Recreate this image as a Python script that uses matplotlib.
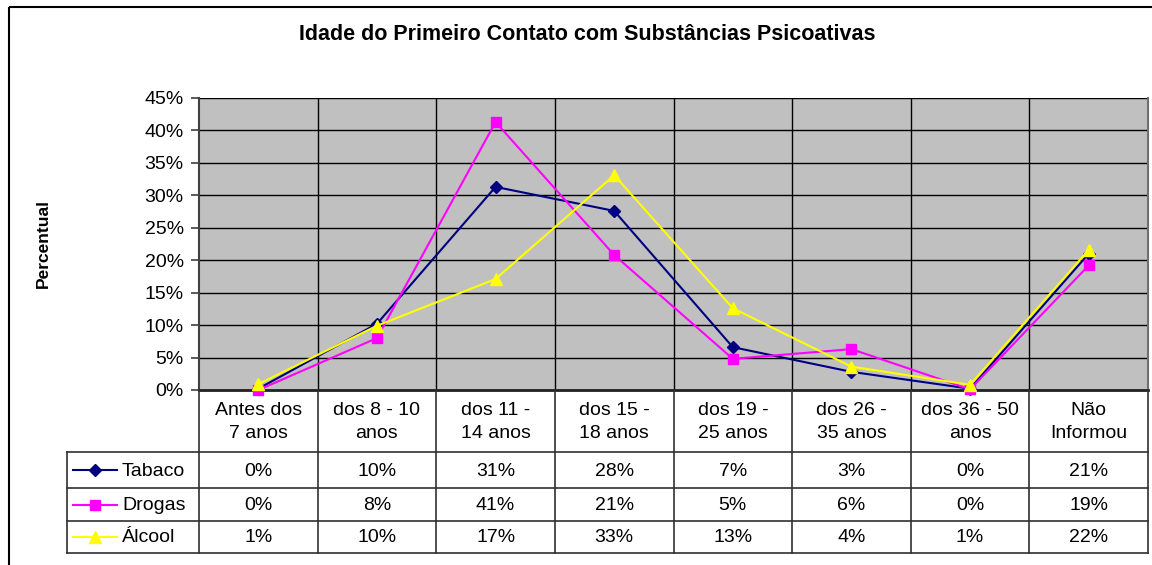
import matplotlib
matplotlib.use("Agg")
import matplotlib.pyplot as plt
from matplotlib.patches import Rectangle

plt.rcParams['font.family'] = ['Liberation Sans', 'DejaVu Sans']

categories = ["Antes dos\n7 anos", "dos 8 - 10\nanos", "dos 11 -\n14 anos", "dos 15 -\n18 anos",
              "dos 19 -\n25 anos", "dos 26 -\n35 anos", "dos 36 - 50\nanos", "Não\nInformou"]
series_names = ["Tabaco", "Drogas", "Álcool"]
tabaco = [0.2, 10.2, 31.3, 27.6, 6.6, 2.8, 0.2, 21.0]
drogas = [0.0, 8.0, 41.3, 20.8, 4.8, 6.3, 0.1, 19.2]
alcool = [0.9, 9.9, 17.1, 33.1, 12.6, 3.6, 0.8, 21.6]
series = [tabaco, drogas, alcool]
colors = ["#000080", "#FF00FF", "#FFFF00"]
markers = ["D", "s", "^"]
msizes = [6, 7, 8]
yticks = [0, 5, 10, 15, 20, 25, 30, 35, 40, 45]

W, H = 1152, 565
fig = plt.figure(figsize=(W / 100, H / 100), dpi=100)

# pixel layout
L, R, T, B = 199, 1148, 98, 390
tab_left = 67
row_lines = [452, 488, 521, 553]
n = len(categories)
colw = (R - L) / n
grid_c = "#000000"
fs = 14

ax = fig.add_axes([L / W, 1 - B / H, (R - L) / W, (B - T) / H])
ax.set_facecolor("#C0C0C0")
ax.set_xlim(0, n)
ax.set_ylim(0, 45)
ax.set_yticks(yticks)
ax.set_yticklabels([f"{v}%" for v in yticks], fontsize=fs)
ax.set_xticks([])
for v in yticks[1:]:
    ax.axhline(v, color=grid_c, lw=1.0, zorder=1)
for i in range(1, n):
    ax.axvline(i, color=grid_c, lw=1.0, zorder=1)
ax.spines["top"].set_visible(False)
ax.spines["right"].set_color("#707070")
ax.spines["right"].set_linewidth(1.5)
ax.spines["left"].set_color("#404040")
ax.spines["left"].set_linewidth(1.5)
ax.spines["bottom"].set_color("#202020")
ax.spines["bottom"].set_linewidth(2.0)
ax.tick_params(axis="y", length=6, width=1.2, color="#404040", pad=5)

xs = [i + 0.5 for i in range(n)]
for vals, c, m, ms in zip(series, colors, markers, msizes):
    ax.plot(xs, vals, color=c, lw=1.5, marker=m, markersize=ms,
            markerfacecolor=c, markeredgecolor=c, zorder=3, clip_on=False)

# overlay for table / frame
ov = fig.add_axes([0, 0, 1, 1], zorder=5)
ov.set_xlim(0, W)
ov.set_ylim(H, 0)
ov.axis("off")
ov.patch.set_alpha(0)

ov.add_patch(Rectangle((9, 7), 1200, 600, fill=False, edgecolor="black", lw=1.5, clip_on=True))

line_c = "#303030"
for i in range(0, n + 1):
    x = L + i * colw
    ov.plot([x, x], [B, row_lines[-1]], color=line_c, lw=1.2)
ov.plot([tab_left, tab_left], [row_lines[0], row_lines[-1]], color=line_c, lw=1.2)
for y in row_lines:
    ov.plot([tab_left, R], [y, y], color=line_c, lw=1.2)

# category labels
for i, cat in enumerate(categories):
    ov.text(L + (i + 0.5) * colw, (B + row_lines[0]) / 2 + 1, cat, ha="center", va="center",
            fontsize=fs, linespacing=1.45)

# data rows
for r, (name, vals, c, m, ms) in enumerate(zip(series_names, series, colors, markers, msizes)):
    yc = (row_lines[r] + row_lines[r + 1]) / 2
    ov.plot([73, 117], [yc, yc], color=c, lw=1.5)
    ov.plot([95], [yc], marker=m, color=c, markersize=ms, markeredgecolor=c)
    ov.text(122, yc + 1, name, ha="left", va="center", fontsize=fs)
    for i, v in enumerate(vals):
        ov.text(L + (i + 0.5) * colw, yc + 1, f"{round(v)}%", ha="center", va="center", fontsize=fs)

ov.text(587, 34, "Idade do Primeiro Contato com Substâncias Psicoativas",
        ha="center", va="center", fontsize=15.5, fontweight="bold")
ov.text(43, 244, "Percentual", ha="center", va="center", rotation=90,
        fontsize=12.5, fontweight="bold")

fig.savefig("out.png", dpi=100)
